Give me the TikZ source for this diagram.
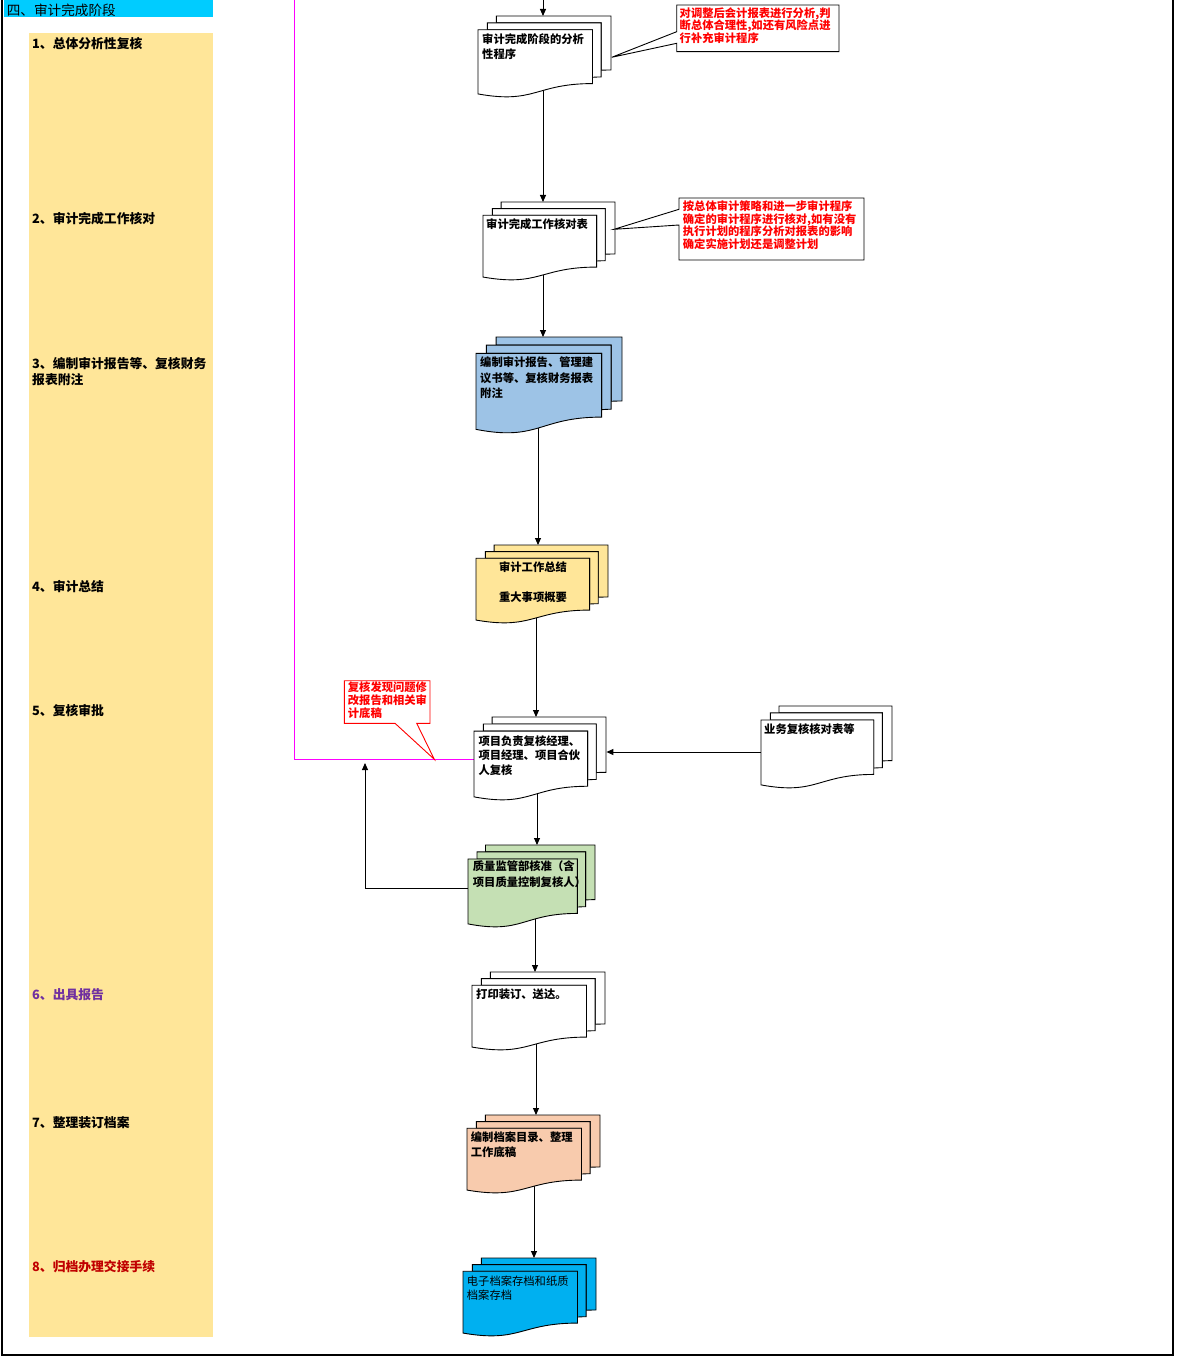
\documentclass[tikz,border=0pt]{standalone}
\usepackage{fontspec}
\setmainfont{Noto Sans CJK SC}
\usetikzlibrary{arrows.meta}
\definecolor{hdr}{RGB}{0,204,255}
\definecolor{lane}{RGB}{255,230,153}
\definecolor{blu}{RGB}{157,195,230}
\definecolor{yel}{RGB}{255,230,153}
\definecolor{grn}{RGB}{197,224,180}
\definecolor{pch}{RGB}{248,203,173}
\definecolor{sky}{RGB}{0,176,240}
\definecolor{purp}{RGB}{112,48,160}
\definecolor{dred}{RGB}{192,0,0}
\definecolor{mag}{RGB}{255,0,255}
\tikzset{
  docline/.style={draw=black,line width=0.9pt,line join=miter},
  arr/.style={draw=black,line width=0.9pt,-{Triangle[length=7pt,width=6pt]}},
  lbl/.style={anchor=west,inner sep=0pt,align=left,font=\fontsize{12.8}{16}\selectfont\bfseries},
  dtxt/.style={anchor=west,inner sep=0pt,align=left,font=\fontsize{11.3}{15.3}\selectfont\bfseries},
  rtxt/.style={anchor=west,inner sep=0pt,align=left,text=red,font=\fontsize{11.3}{12.7}\selectfont\bfseries},
  callbox/.style={fill=white,draw=black,line width=0.9pt,line join=miter}
}
\newcommand\mdoc[6]{%
\node[inner sep=0pt,outer sep=0pt,minimum width=#4pt,minimum height=#5pt,anchor=north west] (#1) at (#2,#3) {};
\begin{scope}[shift={(#2,#3)},x={(#4pt,0pt)},y={(0pt,-#5pt)}]
\filldraw[docline,fill=#6] (0.13759,0.08403) -- (0.13759,0) -- (1,0) -- (1,0.66630) .. controls (0.96296,0.66630) and (0.92593,0.66977) .. (0.92593,0.66977) -- (0.92593,0.08403) -- cycle;
\filldraw[docline,fill=#6] (0.07093,0.17014) -- (0.07093,0.08403) -- (0.92593,0.08403) -- (0.92593,0.75241) .. controls (0.89343,0.75241) and (0.86088,0.75704) .. (0.86088,0.75704) -- (0.86088,0.17014) -- cycle;
\filldraw[docline,fill=#6] (0,0.96213) .. controls (0.43046,1.08991) and (0.43046,0.83435) .. (0.86088,0.83435) -- (0.86088,0.17014) -- (0,0.17014) -- cycle;
\end{scope}}
\begin{document}
\begin{tikzpicture}[x=1pt,y=-1pt]
\useasboundingbox (0,0) rectangle (1177,1359);
% backgrounds
\fill[hdr] (4,0) rectangle (212.7,17.3);
\fill[lane] (29.3,33) rectangle (212.7,1337);
\draw[line width=1.8pt] (2,0) -- (2,1355) -- (1173,1355) -- (1173,0);
% coordinates for connectors
\coordinate (topin) at (543,0);
\coordinate (xa) at (543,0);
\coordinate (x34) at (538,0);
\coordinate (x45) at (536,0);
\coordinate (x57) at (537,0);
\coordinate (x78) at (535,0);
\coordinate (x89) at (536,0);
\coordinate (x910) at (534,0);
\coordinate (y65) at (0,752);
\coordinate (lp) at (365,888);
\coordinate (lptip) at (365,763);
\coordinate (mgtop) at (294,0);
\coordinate (mg) at (294,759);
% named doc nodes (invisible placeholders first, shapes later)
\path (478,16) node[inner sep=0pt,minimum width=133pt,minimum height=81pt,anchor=north west] (d1) {};
\path (483,202) node[inner sep=0pt,minimum width=132pt,minimum height=78pt,anchor=north west] (d2) {};
\path (476,337) node[inner sep=0pt,minimum width=146pt,minimum height=96pt,anchor=north west] (d3) {};
\path (476,545) node[inner sep=0pt,minimum width=132pt,minimum height=78pt,anchor=north west] (d4) {};
\path (474,717) node[inner sep=0pt,minimum width=132pt,minimum height=83pt,anchor=north west] (d5) {};
\path (761,706) node[inner sep=0pt,minimum width=131pt,minimum height=82pt,anchor=north west] (d6) {};
\path (468,845) node[inner sep=0pt,minimum width=127pt,minimum height=82pt,anchor=north west] (d7) {};
\path (472,972) node[inner sep=0pt,minimum width=133pt,minimum height=78pt,anchor=north west] (d8) {};
\path (467,1115) node[inner sep=0pt,minimum width=133pt,minimum height=78pt,anchor=north west] (d9) {};
\path (463,1258) node[inner sep=0pt,minimum width=133pt,minimum height=78pt,anchor=north west] (d10) {};
% connectors (drawn under the shapes)
\draw[mag,line width=0.9pt] (mgtop) -- (mg) -- (d5.center |- mg);
\draw[arr] (topin) -- (topin |- d1.north);
\draw[arr] (xa |- d1.center) -- (xa |- d2.north);
\draw[arr] (xa |- d2.center) -- (xa |- d3.north);
\draw[arr] (x34 |- d3.center) -- (x34 |- d4.north);
\draw[arr] (x45 |- d4.center) -- (x45 |- d5.north);
\draw[arr] (x57 |- d5.center) -- (x57 |- d7.north);
\draw[arr] (x78 |- d7.center) -- (x78 |- d8.north);
\draw[arr] (x89 |- d8.center) -- (x89 |- d9.north);
\draw[arr] (x910 |- d9.center) -- (x910 |- d10.north);
\draw[arr] (d6.center |- y65) -- (d5.east |- y65);
\draw[arr] (d7.center |- lp) -- (lp) -- (lptip);
% document shapes
\mdoc{s1}{478}{16}{133}{81}{white}
\mdoc{s2}{483}{202}{132}{78}{white}
\mdoc{s3}{476}{337}{146}{96}{blu}
\mdoc{s4}{476}{545}{132}{78}{yel}
\mdoc{s5}{474}{717}{132}{83}{white}
\mdoc{s6}{761}{706}{131}{82}{white}
\mdoc{s7}{468}{845}{127}{82}{grn}
\mdoc{s8}{472}{972}{133}{78}{white}
\mdoc{s9}{467}{1115}{133}{78}{pch}
\mdoc{s10}{463}{1258}{133}{78}{sky}
% callouts
\filldraw[callbox] (676.7,5) -- (839,5) -- (839,51.7) -- (676.7,51.7) -- (676.7,43.3) -- (611.7,57.3) -- (676.7,31.7) -- cycle;
\filldraw[callbox] (679,198) -- (864,198) -- (864,260) -- (679,260) -- (679,225) -- (614,229.3) -- (679,209.3) -- cycle;
\filldraw[callbox,draw=red] (344.3,680.7) -- (430,680.7) -- (430,723.3) -- (416.7,723.3) -- (434.3,759.3) -- (395,723.3) -- (344.3,723.3) -- cycle;
% header and lane labels
\node[anchor=west,inner sep=0pt,font=\fontsize{13.6}{16}\selectfont] (hd) at (6.7,10.5) {四、审计完成阶段};
\node[lbl] (l1) at (32,43.5) {1、总体分析性复核};
\node[lbl] (l2) at (32,219) {2、审计完成工作核对};
\node[lbl] (l3) at (32,371.9) {3、编制审计报告等、复核财务\\报表附注};
\node[lbl] (l4) at (32,587) {4、审计总结};
\node[lbl] (l5) at (32,711) {5、复核审批};
\node[lbl,text=purp] (l6) at (32,995) {6、出具报告};
\node[lbl] (l7) at (32,1123) {7、整理装订档案};
\node[lbl,text=dred] (l8) at (32,1267) {8、归档办理交接手续};
% document texts
\node[dtxt] (t1) at (482,46.6) {审计完成阶段的分析\\性程序};
\node[dtxt] (t2) at (486,224.5) {审计完成工作核对表};
\node[dtxt,font=\fontsize{11.3}{15.25}\selectfont\bfseries] (t3) at (480,377.8) {编制审计报告、管理建\\议书等、复核财务报表\\附注};
\node[dtxt,anchor=center] (t4a) at (533,567.5) {审计工作总结};
\node[dtxt,anchor=center] (t4b) at (533,597) {重大事项概要};
\node[dtxt,font=\fontsize{11.3}{14.8}\selectfont\bfseries] (t5) at (478.3,755.5) {项目负责复核经理、\\项目经理、项目合伙\\人复核};
\node[dtxt] (t6) at (764,729.5) {业务复核核对表等};
\node[dtxt,font=\fontsize{11.3}{16}\selectfont\bfseries] (t7) at (472.7,874) {质量监管部核准（含\\项目质量控制复核人）};
\node[dtxt] (t8) at (476,994.5) {打印装订、送达。};
\node[dtxt] (t9) at (470.7,1144.8) {编制档案目录、整理\\工作底稿};
\node[dtxt,font=\fontsize{11.3}{14.5}\selectfont] (t10) at (466.7,1288.2) {电子档案存档和纸质\\档案存档};
% callout texts
\node[rtxt,font=\fontsize{11.3}{12.4}\selectfont\bfseries] (c1) at (679.5,25.4) {对调整后会计报表进行分析,判\\断总体合理性,如还有风险点进\\行补充审计程序};
\node[rtxt] (c2) at (682.7,225.3) {按总体审计策略和进一步审计程序\\确定的审计程序进行核对,如有没有\\执行计划的程序分析对报表的影响\\确定实施计划还是调整计划};
\node[rtxt,font=\fontsize{11.3}{13.2}\selectfont\bfseries] (c3) at (347.7,699.9) {复核发现问题修\\改报告和相关审\\计底稿};
\end{tikzpicture}
\end{document}
